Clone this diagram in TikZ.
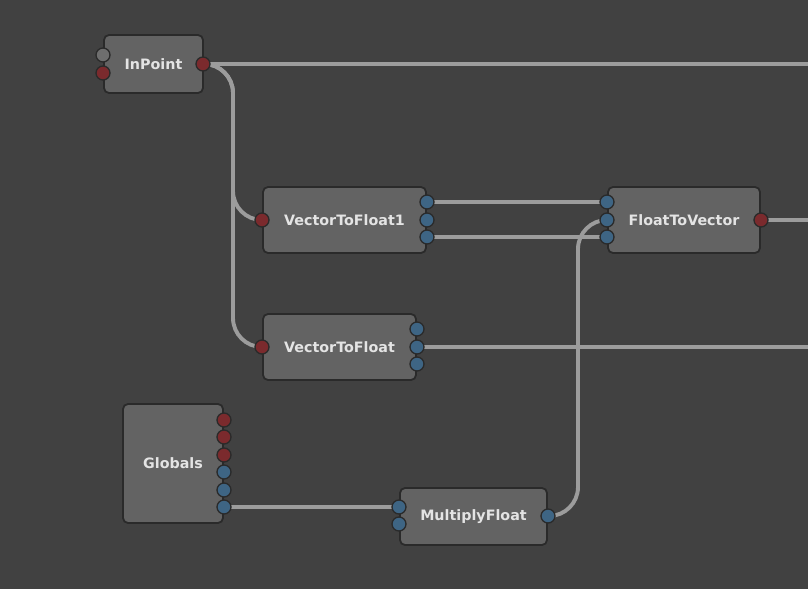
\documentclass[tikz,border=0pt]{standalone}
\usepackage{fontspec}
\setmainfont{DejaVu Sans}
\definecolor{bgc}{HTML}{414141}
\definecolor{boxc}{HTML}{636363}
\definecolor{edgec}{HTML}{2A2A2A}
\definecolor{txtc}{HTML}{E4E4E4}
\definecolor{wirec}{HTML}{9C9C9C}
\definecolor{redp}{HTML}{7B2A2D}
\definecolor{bluep}{HTML}{3E6584}
\definecolor{greyp}{HTML}{6E6E6E}
\tikzset{
  nodebox/.style={draw=edgec, line width=1.8pt, fill=boxc, rounded corners=5pt, inner sep=0pt,
    text=txtc, font=\fontsize{14.3}{17}\selectfont\bfseries},
  port/.style={circle, draw=edgec, line width=1.3pt, minimum size=14pt, inner sep=0pt},
  rport/.style={port, fill=redp},
  bport/.style={port, fill=bluep},
  gport/.style={port, fill=greyp},
  wire/.style={draw=wirec, line width=3.9pt, rounded corners=29pt},
}
\begin{document}
\begin{tikzpicture}[x=1pt,y=-1pt]
\fill[bgc] (0,0) rectangle (808,589);
\useasboundingbox (0,0) rectangle (808,589);

% boxes
\node[nodebox, minimum width=99pt, minimum height=58pt] (inpoint) at (153.5,64) {InPoint};
\node[nodebox, minimum width=163pt, minimum height=66pt] (v1) at (344.5,220) {VectorToFloat1};
\node[nodebox, minimum width=152pt, minimum height=66pt] (fv) at (684,220) {FloatToVector};
\node[nodebox, minimum width=153pt, minimum height=66pt] (vf) at (339.5,347) {VectorToFloat};
\node[nodebox, minimum width=100pt, minimum height=119pt] (glob) at (173,463.5) {Globals};
\node[nodebox, minimum width=147pt, minimum height=57pt] (mf) at (473.5,516.5) {MultiplyFloat};

% coordinates for wires
\coordinate (bus) at (233,64);
\coordinate (mfbend) at (578,516);
\coordinate (edgeA) at (808,64);
\coordinate (edgeB) at (808,220);
\coordinate (edgeC) at (808,347);

% port positions
\coordinate (ipi1) at (103,55);
\coordinate (ipi2) at (103,73);
\coordinate (ipo) at (203,64);
\coordinate (v1i) at (262,220);
\coordinate (v1o1) at (427,202);
\coordinate (v1o2) at (427,220);
\coordinate (v1o3) at (427,237);
\coordinate (fvi1) at (607,202);
\coordinate (fvi2) at (607,220);
\coordinate (fvi3) at (607,237);
\coordinate (fvo) at (761,220);
\coordinate (vfi) at (262,347);
\coordinate (vfo1) at (417,329);
\coordinate (vfo2) at (417,347);
\coordinate (vfo3) at (417,364);
\coordinate (g1) at (224,420);
\coordinate (g2) at (224,437);
\coordinate (g3) at (224,455);
\coordinate (g4) at (224,472);
\coordinate (g5) at (224,490);
\coordinate (g6) at (224,507);
\coordinate (mfi1) at (399,507);
\coordinate (mfi2) at (399,524);
\coordinate (mfo) at (548,516);

% wires
\draw[wire] (ipo) -- (edgeA);
\draw[wire] (ipo) -- (bus) |- (v1i);
\draw[wire] (ipo) -- (bus) |- (vfi);
\draw[wire] (v1o1) -- (fvi1);
\draw[wire] (v1o3) -- (fvi3);
\draw[wire] (fvo) -- (edgeB);
\draw[wire] (vfo2) -- (edgeC);
\draw[wire] (g6) -- (mfi1);
\draw[wire] (mfo) -- (mfbend) |- (fvi2);

% ports
\node[gport] (pipi1) at (ipi1) {};
\node[rport] (pipi2) at (ipi2) {};
\node[rport] (pipo) at (ipo) {};
\node[rport] (pv1i) at (v1i) {};
\node[bport] (pv1o1) at (v1o1) {};
\node[bport] (pv1o2) at (v1o2) {};
\node[bport] (pv1o3) at (v1o3) {};
\node[bport] (pfvi1) at (fvi1) {};
\node[bport] (pfvi2) at (fvi2) {};
\node[bport] (pfvi3) at (fvi3) {};
\node[rport] (pfvo) at (fvo) {};
\node[rport] (pvfi) at (vfi) {};
\node[bport] (pvfo1) at (vfo1) {};
\node[bport] (pvfo2) at (vfo2) {};
\node[bport] (pvfo3) at (vfo3) {};
\node[rport] (pg1) at (g1) {};
\node[rport] (pg2) at (g2) {};
\node[rport] (pg3) at (g3) {};
\node[bport] (pg4) at (g4) {};
\node[bport] (pg5) at (g5) {};
\node[bport] (pg6) at (g6) {};
\node[bport] (pmfi1) at (mfi1) {};
\node[bport] (pmfi2) at (mfi2) {};
\node[bport] (pmfo) at (mfo) {};
\end{tikzpicture}
\end{document}
